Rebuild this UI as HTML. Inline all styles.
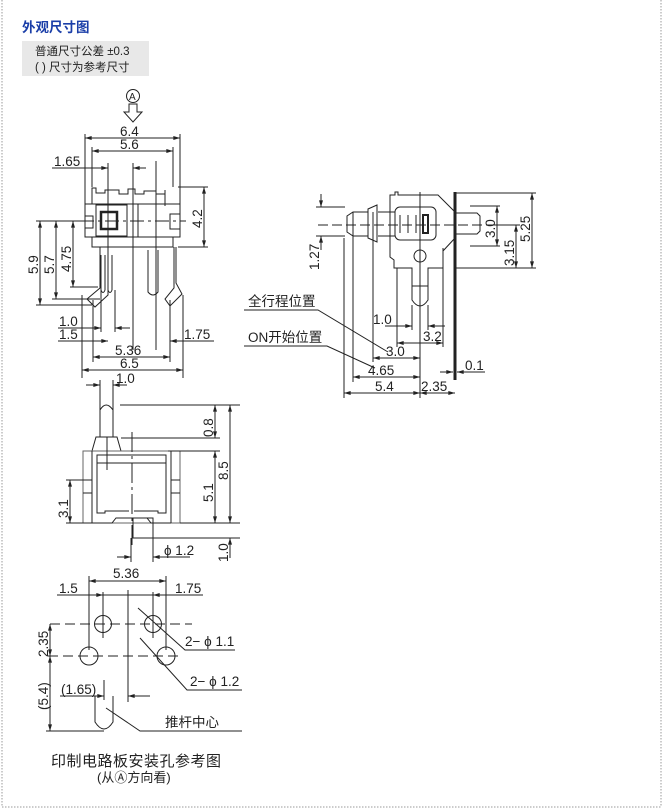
<!DOCTYPE html>
<html><head><meta charset="utf-8"><style>
body{margin:0;background:#fff;width:668px;height:809px;overflow:hidden}
svg{position:absolute;left:0;top:0}
text{font-family:"Liberation Sans","Noto Sans CJK SC",sans-serif;fill:#222}
</style></head><body>
<svg width="668" height="809" viewBox="0 0 668 809">
<defs>
<marker id="a" viewBox="0 0 10 6" refX="10" refY="3" markerWidth="7" markerHeight="4" orient="auto-start-reverse"><path d="M0,0L10,3L0,6z" fill="#222"/></marker>
</defs>
<g stroke="#999" stroke-dasharray="1.5 1.5" stroke-width="1" fill="none">
<line x1="2" y1="0" x2="2" y2="807"/><line x1="661" y1="0" x2="661" y2="807"/><line x1="2" y1="807" x2="661" y2="807"/>
</g>
<text x="22" y="32" font-size="13.5" font-weight="bold" style="fill:#1a3ea8">外观尺寸图</text>
<rect x="22" y="41" width="127" height="35" fill="#e8e8e8"/>
<text x="35" y="55" font-size="11.5">普通尺寸公差 ±0.3</text>
<text x="35" y="71" font-size="11.5">( ) 尺寸为参考尺寸</text>

<g stroke="#222" stroke-width="1" fill="none">
<circle cx="133" cy="96" r="6.5"/>
<path d="M129,104h8v8h5l-9,10l-9,-10h5z"/>
<line x1="85" y1="134" x2="85" y2="204"/><line x1="180" y1="134" x2="180" y2="204"/>
<line x1="85" y1="138" x2="180" y2="138" marker-start="url(#a)" marker-end="url(#a)"/>
<line x1="92" y1="147" x2="92" y2="187"/><line x1="173" y1="147" x2="173" y2="187"/>
<line x1="92" y1="151" x2="173" y2="151" marker-start="url(#a)" marker-end="url(#a)"/>
<line x1="52" y1="168" x2="108" y2="168" marker-end="url(#a)"/><line x1="146" y1="168" x2="133" y2="168" marker-end="url(#a)"/>
<line x1="108" y1="163" x2="108" y2="247"/><line x1="133" y1="163" x2="133" y2="350"/><line x1="156" y1="161" x2="156" y2="350"/>
<path d="M92,204V188h4v5h9v-3h14v4h9v-5h7v5h9v-3h12v3h9v-4h-0v16"/>
<rect x="85" y="204" width="95" height="33"/>
<rect x="96" y="205" width="31" height="31"/>
<rect x="101" y="212" width="16" height="17" stroke-width="2.5"/>
<rect x="170" y="214" width="10" height="15"/>
<rect x="85" y="216" width="8" height="12"/>
<line x1="138" y1="204" x2="138" y2="237"/>
<path d="M92,237V247H173V237"/>
<line x1="80" y1="221" x2="186" y2="221" stroke-dasharray="14 4 3 4"/>
<line x1="178" y1="187" x2="208" y2="187"/><line x1="178" y1="247" x2="208" y2="247"/>
<line x1="204" y1="187" x2="204" y2="247" marker-start="url(#a)" marker-end="url(#a)"/>
<path d="M100,247V288L87,299l8,8l13,-12V247"/>
<path d="M101,255V290q2,5 4,0V255 M112,255V290q-2,5 -4,0"/>
<path d="M174,247V288L165,299l5,7l12,-12L176,283V247"/>
<path d="M148,250V292q5,6 10,0V250"/>
<line x1="36" y1="221" x2="84" y2="221"/><line x1="36" y1="305" x2="92" y2="305"/><line x1="52" y1="299" x2="100" y2="299"/><line x1="70" y1="287" x2="98" y2="287"/>
<line x1="40" y1="221" x2="40" y2="305" marker-start="url(#a)" marker-end="url(#a)"/>
<line x1="56" y1="221" x2="56" y2="299" marker-start="url(#a)" marker-end="url(#a)"/>
<line x1="73" y1="221" x2="73" y2="287" marker-start="url(#a)" marker-end="url(#a)"/>
<line x1="82" y1="295" x2="82" y2="378"/><line x1="93" y1="300" x2="93" y2="362"/><line x1="101" y1="290" x2="101" y2="332"/><line x1="115" y1="290" x2="115" y2="332"/><line x1="170" y1="300" x2="170" y2="362"/><line x1="183" y1="295" x2="183" y2="378"/>
<line x1="58" y1="328" x2="101" y2="328" marker-end="url(#a)"/><line x1="130" y1="328" x2="115" y2="328" marker-end="url(#a)"/>
<line x1="58" y1="341" x2="108" y2="341" marker-end="url(#a)"/>
<line x1="214" y1="341" x2="170" y2="341" marker-end="url(#a)"/>
<line x1="93" y1="357" x2="170" y2="357" marker-start="url(#a)" marker-end="url(#a)"/>
<line x1="82" y1="370" x2="183" y2="370" marker-start="url(#a)" marker-end="url(#a)"/>

<path d="M390,195h5v-3h3v3h40l17,17v26l-12,13v17H428V286H412V268H394V260l-4,-3V195z"/>
<path d="M412,286V300q8,12 16,0V286"/>
<path d="M378,212H395M378,236H395"/>
<path d="M377,205l-9,4V238l9,4z"/>
<path d="M368,212H353l-6,4V232l6,4H368"/>
<rect x="395" y="207" width="41" height="33" rx="5"/>
<line x1="400" y1="215" x2="400" y2="233"/><line x1="408" y1="215" x2="408" y2="233"/><line x1="416" y1="215" x2="416" y2="233"/>
<rect x="423" y="215" width="5" height="18" stroke-width="2"/>
<circle cx="420" cy="256" r="6"/>
<path d="M456,213h21l3,3V231l-3,3H456"/>
<line x1="455" y1="192" x2="455" y2="380" stroke-width="3"/>
<line x1="318" y1="225" x2="490" y2="225" stroke-dasharray="10 4"/>
<line x1="420" y1="192" x2="420" y2="398"/>
<line x1="455" y1="193" x2="536" y2="193"/><line x1="470" y1="206" x2="500" y2="206"/><line x1="470" y1="246" x2="500" y2="246"/><line x1="455" y1="268" x2="536" y2="268"/><line x1="486" y1="225" x2="520" y2="225"/>
<line x1="497" y1="206" x2="497" y2="246" marker-start="url(#a)" marker-end="url(#a)"/>
<line x1="516" y1="225" x2="516" y2="268" marker-start="url(#a)" marker-end="url(#a)"/>
<line x1="532" y1="193" x2="532" y2="268" marker-start="url(#a)" marker-end="url(#a)"/>
<line x1="316" y1="207" x2="345" y2="207"/><line x1="316" y1="236" x2="345" y2="236"/>
<line x1="321" y1="194" x2="321" y2="207" marker-end="url(#a)"/><line x1="321" y1="250" x2="321" y2="236" marker-end="url(#a)"/>
<line x1="344" y1="238" x2="344" y2="398"/><line x1="353" y1="212" x2="353" y2="382"/><line x1="373" y1="212" x2="373" y2="362"/>
<line x1="397" y1="268" x2="397" y2="347"/><line x1="412" y1="305" x2="412" y2="330"/><line x1="428" y1="305" x2="428" y2="330"/><line x1="443" y1="248" x2="443" y2="347"/>
<line x1="385" y1="326" x2="412" y2="326" marker-end="url(#a)"/><line x1="445" y1="326" x2="428" y2="326" marker-end="url(#a)"/>
<line x1="397" y1="343" x2="443" y2="343" marker-start="url(#a)" marker-end="url(#a)"/>
<line x1="373" y1="358" x2="420" y2="358" marker-start="url(#a)" marker-end="url(#a)"/>
<line x1="353" y1="377" x2="420" y2="377" marker-start="url(#a)" marker-end="url(#a)"/>
<line x1="344" y1="393" x2="420" y2="393" marker-start="url(#a)" marker-end="url(#a)"/>
<line x1="420" y1="393" x2="455" y2="393" marker-start="url(#a)" marker-end="url(#a)"/>
<line x1="440" y1="372" x2="453" y2="372" marker-end="url(#a)"/><line x1="485" y1="372" x2="457" y2="372" marker-end="url(#a)"/>
<path d="M244,310H318L388,352"/>
<path d="M244,346H327L375,368"/>

<line x1="86" y1="385" x2="100" y2="385" marker-end="url(#a)"/><line x1="127" y1="385" x2="113" y2="385" marker-end="url(#a)"/>
<line x1="100" y1="380" x2="100" y2="410"/><line x1="113" y1="380" x2="113" y2="410"/>
<path d="M100,437V410q6,-10 13,0V437"/>
<path d="M92,451l4,-14h21l4,14"/>
<rect x="83" y="451" width="97" height="72" stroke="#666"/>
<path d="M92,451V523M171,451V523M83,480H92M171,480H180M92,493H83M171,493H180"/>
<rect x="97" y="455" width="69" height="8"/>
<path d="M97,460V513h8v-2h24M166,460V513h-8v-2h-24"/>
<path d="M92,523h20l4,-5h31l4,5h20"/>
<rect x="133" y="518" width="20" height="20"/>
<line x1="132" y1="432" x2="132" y2="545" stroke-dasharray="20 4 3 4"/>
<line x1="107" y1="437" x2="107" y2="470"/>
<line x1="120" y1="405" x2="240" y2="405"/><line x1="121" y1="438" x2="220" y2="438"/><line x1="168" y1="451" x2="220" y2="451"/><line x1="180" y1="523" x2="240" y2="523"/><line x1="153" y1="538" x2="240" y2="538"/>
<line x1="215" y1="405" x2="215" y2="438" marker-start="url(#a)" marker-end="url(#a)"/>
<line x1="215" y1="451" x2="215" y2="523" marker-start="url(#a)" marker-end="url(#a)"/>
<line x1="230" y1="405" x2="230" y2="523" marker-start="url(#a)" marker-end="url(#a)"/>
<line x1="230" y1="558" x2="230" y2="538" marker-end="url(#a)"/>
<line x1="66" y1="480" x2="92" y2="480"/><line x1="66" y1="523" x2="92" y2="523"/>
<line x1="70" y1="480" x2="70" y2="523" marker-start="url(#a)" marker-end="url(#a)"/>
<line x1="131" y1="538" x2="131" y2="562"/><line x1="153" y1="538" x2="153" y2="562"/>
<line x1="117" y1="557" x2="131" y2="557" marker-end="url(#a)"/><line x1="190" y1="557" x2="153" y2="557" marker-end="url(#a)"/>

<line x1="89" y1="576" x2="89" y2="650"/><line x1="166" y1="576" x2="166" y2="650"/>
<line x1="89" y1="581" x2="166" y2="581" marker-start="url(#a)" marker-end="url(#a)"/>
<line x1="57" y1="595" x2="103" y2="595" marker-end="url(#a)"/><line x1="128" y1="595" x2="103" y2="595"/>
<line x1="203" y1="595" x2="153" y2="595" marker-end="url(#a)"/><line x1="128" y1="595" x2="153" y2="595"/>
<line x1="103" y1="592" x2="103" y2="638"/><line x1="153" y1="592" x2="153" y2="638"/>
<line x1="128" y1="590" x2="128" y2="702"/>
<line x1="50" y1="624" x2="192" y2="624" stroke-dasharray="10 5"/>
<line x1="48" y1="656" x2="183" y2="656" stroke-dasharray="10 5"/>
<circle cx="103" cy="624" r="8.5"/><circle cx="153" cy="624" r="8.5"/>
<circle cx="89" cy="656" r="9"/><circle cx="166" cy="656" r="9"/>
<line x1="50" y1="624" x2="50" y2="656" marker-start="url(#a)" marker-end="url(#a)"/>
<line x1="50" y1="656" x2="50" y2="731" marker-start="url(#a)" marker-end="url(#a)"/>
<line x1="46" y1="731" x2="104" y2="731"/>
<line x1="60" y1="696" x2="104" y2="696" marker-end="url(#a)"/><line x1="150" y1="696" x2="128" y2="696" marker-end="url(#a)"/>
<line x1="104" y1="680" x2="104" y2="700"/>
<path d="M95,696V722q9,14 18,0V696"/>
<path d="M138,608L185,650H235"/>
<path d="M140,638L187,690H242"/>
<path d="M106,708L140,731H242"/>
</g>

<g font-size="13.5">
<text x="120" y="136">6.4</text>
<text x="120" y="149">5.6</text>
<text x="54" y="166">1.65</text>
<text x="59" y="326">1.0</text>
<text x="59" y="339">1.5</text>
<text x="184" y="339">1.75</text>
<text x="115" y="355">5.36</text>
<text x="120" y="368">6.5</text>
<text x="116" y="383">1.0</text>
<text transform="translate(38,274) rotate(-90)">5.9</text>
<text transform="translate(54,274) rotate(-90)">5.7</text>
<text transform="translate(71,272) rotate(-90)">4.75</text>
<text transform="translate(202,228) rotate(-90)">4.2</text>
<text transform="translate(319,270) rotate(-90)">1.27</text>
<text transform="translate(495,238) rotate(-90)">3.0</text>
<text transform="translate(514,266) rotate(-90)">3.15</text>
<text transform="translate(530,242) rotate(-90)">5.25</text>
<text x="373" y="324">1.0</text>
<text x="423" y="341">3.2</text>
<text x="386" y="356">3.0</text>
<text x="368" y="375">4.65</text>
<text x="375" y="391">5.4</text>
<text x="421" y="391">2.35</text>
<text x="465" y="370">0.1</text>
<text x="248" y="306">全行程位置</text>
<text x="248" y="342">ON开始位置</text>
<text transform="translate(213,437) rotate(-90)">0.8</text>
<text transform="translate(213,502) rotate(-90)">5.1</text>
<text transform="translate(228,480) rotate(-90)">8.5</text>
<text transform="translate(68,518) rotate(-90)">3.1</text>
<text transform="translate(228,562) rotate(-90)">1.0</text>
<text x="164" y="555">ϕ 1.2</text>
<text x="113" y="578">5.36</text>
<text x="59" y="593">1.5</text>
<text x="175" y="593">1.75</text>
<text transform="translate(48,657) rotate(-90)">2.35</text>
<text transform="translate(48,710) rotate(-90)">(5.4)</text>
<text x="61" y="694">(1.65)</text>
<text x="185" y="646">2− ϕ 1.1</text>
<text x="190" y="686">2− ϕ 1.2</text>
<text x="165" y="727">推杆中心</text>
</g>
<text x="51" y="766" font-size="15" letter-spacing="0.5">印制电路板安装孔参考图</text>
<text x="97" y="782" font-size="13">(从Ⓐ方向看)</text>
<text x="129" y="100" font-size="10">A</text>
</svg>
</body></html>
